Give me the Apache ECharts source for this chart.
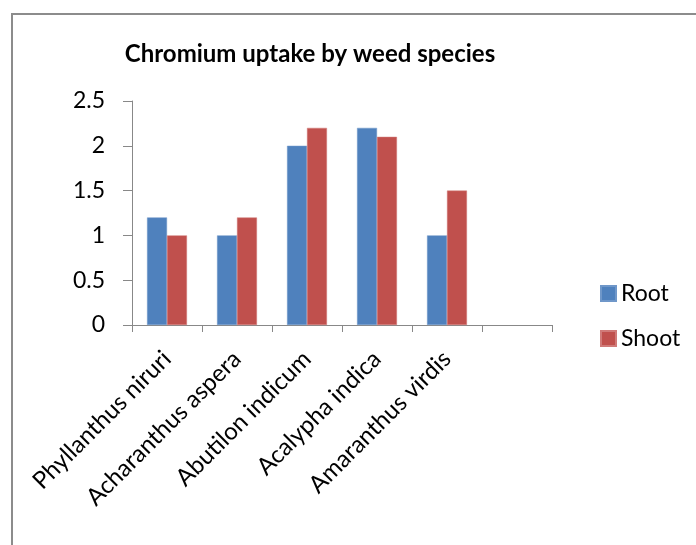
<!DOCTYPE html>
<html>
<head>
<meta charset="utf-8">
<script src="https://cdn.jsdelivr.net/npm/echarts@6/dist/echarts.min.js"></script>
<style>
  html, body { margin: 0; padding: 0; background: #fff; }
  #chart { width: 696px; height: 545px; }
</style>
</head>
<body>
<div id="chart"></div>
<script>
var categories = ['Phyllanthus niruri', 'Acharanthus aspera', 'Abutilon indicum', 'Acalypha indica', 'Amaranthus virdis', ''];
var rootValues = [1.2, 1.0, 2.0, 2.2, 1.0, null];
var shootValues = [1.0, 1.2, 2.2, 2.1, 1.5, null];
var yTicks = [0, 0.5, 1, 1.5, 2, 2.5];

var fontName = 'Lato';
var myChart = echarts.init(document.getElementById('chart'));
myChart.setOption({
    animation: false,
    title: {
        text: 'Chromium uptake by weed species',
        left: 305,
        top: 37,
        textAlign: 'center',
        textStyle: { fontFamily: fontName, fontSize: 24, fontWeight: 'bold', color: '#000' }
    },
    graphic: [
        { type: 'line', shape: { x1: 11, y1: 14, x2: 696, y2: 14 }, style: { stroke: '#8c8c8c', lineWidth: 2 } },
        { type: 'line', shape: { x1: 12, y1: 14, x2: 12, y2: 545 }, style: { stroke: '#8c8c8c', lineWidth: 2 } }
    ],
    legend: {
        orient: 'vertical',
        left: 595,
        top: 277,
        itemGap: 22,
        itemWidth: 15,
        itemHeight: 15,
        icon: 'rect',
        textStyle: { fontFamily: fontName, fontSize: 23, color: '#000' },
        data: ['Root', 'Shoot']
    },
    grid: {
        left: 132,
        top: 101,
        width: 420,
        height: 224,
        containLabel: false
    },
    xAxis: {
        type: 'category',
        data: categories,
        axisLine: { lineStyle: { color: '#888', width: 1 } },
        axisTick: { show: true, length: 7, alignWithLabel: false, lineStyle: { color: '#888' } },
        axisLabel: {
            rotate: 45,
            interval: 0,
            margin: 30,
            fontFamily: fontName,
            fontSize: 24,
            color: '#000'
        }
    },
    yAxis: {
        type: 'value',
        min: yTicks[0],
        max: yTicks[yTicks.length - 1],
        interval: 0.5,
        axisLine: { show: true, lineStyle: { color: '#888' } },
        axisTick: { show: true, length: 9, lineStyle: { color: '#888' } },
        splitLine: { show: false },
        axisLabel: { fontFamily: fontName, fontSize: 23, color: '#000', margin: 27 }
    },
    series: [
        {
            name: 'Root',
            type: 'bar',
            data: rootValues,
            barGap: '0%',
            barCategoryGap: '43%',
            itemStyle: { color: '#4f81bd', borderColor: '#6f97c9', borderWidth: 0.5 }
        },
        {
            name: 'Shoot',
            type: 'bar',
            data: shootValues,
            itemStyle: { color: '#c0504d', borderColor: '#d07a78', borderWidth: 0.5 }
        }
    ]
});
</script>
</body>
</html>
